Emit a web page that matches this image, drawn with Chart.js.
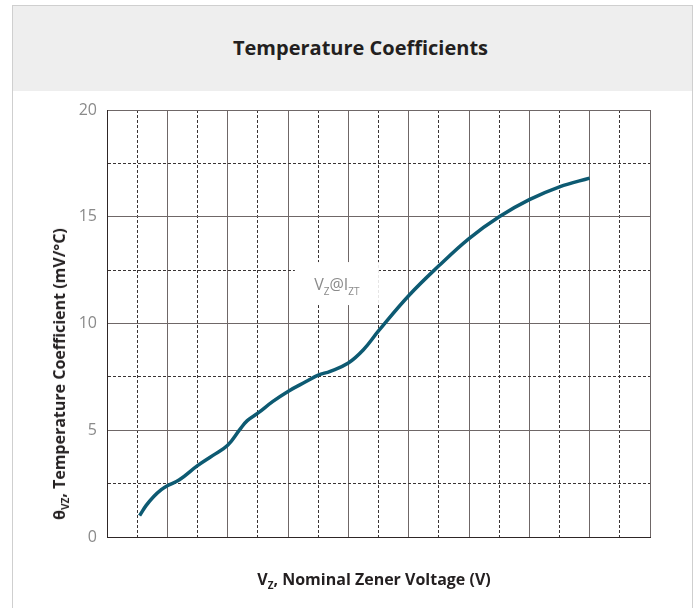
<!DOCTYPE html>
<html>
<head>
<meta charset="utf-8">
<script src="https://cdn.jsdelivr.net/npm/chart.js@4.4.1/dist/chart.umd.min.js"></script>
<style>
  body { margin: 0; background: #fff; font-family: "Open Sans", sans-serif; }
  #wrap { position: relative; width: 698px; height: 608px; overflow: hidden; }
  #panel { position: absolute; left: 12px; top: 5px; width: 679px; height: 640px; border: 1px solid #cfcfcf; }
  #header { height: 85px; background: #eeeeee; text-align: center; line-height: 84px; padding-left: 16px;
            font-weight: bold; font-size: 20px; color: #231f20; }
  #chart { position: absolute; left: 0; top: 0; }
  .axis-title { position: absolute; font-weight: bold; font-size: 16px; color: #231f20; white-space: nowrap; line-height: 20px; }
  .axis-title sub { font-size: 10px; vertical-align: -4px; line-height: 0; }
  #xtitle { left: 374px; top: 579px; transform: translate(-50%, -50%); }
  #ytitle { left: 59px; top: 374px; transform: translate(-50%, -50%) rotate(-90deg); }
</style>
</head>
<body>
<div id="wrap">
  <div id="panel"><div id="header">Temperature Coefficients</div></div>
  <canvas id="chart" width="698" height="608"></canvas>
  <div class="axis-title" id="xtitle">V<sub>Z</sub>, Nominal Zener Voltage (V)</div>
  <div class="axis-title" id="ytitle">θ<sub>VZ</sub>, Temperature Coefficient (mV/°C)</div>
</div>
<script>
// x in grid steps (axis is unlabelled in the original), y in mV/°C
const vz = [1.08, 1.3, 1.55, 1.8, 2, 2.4, 3, 3.5, 4, 4.4, 4.65, 5, 5.5, 6, 6.6, 7, 7.4, 8, 8.5, 9, 10, 11, 12, 13, 14, 15, 16];
const thetaVz = [1.0, 1.48, 1.9, 2.22, 2.4, 2.68, 3.34, 3.81, 4.3, 5.03, 5.45, 5.8, 6.35, 6.82, 7.28, 7.58, 7.76, 8.15, 8.77, 9.65, 11.3, 12.7, 13.98, 15.0, 15.8, 16.4, 16.81];
const yTicks = [0, 5, 10, 15, 20];

// note label position (data units)
const noteX = 7.62;
const noteY = 11.8;

const solidGrid = '#6f6767';
const dashGrid = '#3a3434';

const notePlugin = {
  id: 'note',
  afterDatasetsDraw(chart) {
    const ctx = chart.ctx;
    const cx = chart.scales.x.getPixelForValue(noteX);
    const cy = chart.scales.y.getPixelForValue(noteY);
    const big = '16px "Open Sans"';
    const small = '10px "Open Sans"';
    const parts = [['V', big, 0], ['Z', small, 5], ['@I', big, 0], ['ZT', small, 5]];
    let w = 0;
    parts.forEach(p => { ctx.font = p[1]; w += ctx.measureText(p[0]).width; });
    ctx.save();
    ctx.fillStyle = '#fff';
    ctx.fillRect(cx - 42, cy - 23, 84, 43);
    ctx.fillStyle = '#8a8a8a';
    ctx.textBaseline = 'alphabetic';
    let x = cx - w / 2;
    parts.forEach(p => {
      ctx.font = p[1];
      ctx.fillText(p[0], x, cy + 5 + p[2]);
      x += ctx.measureText(p[0]).width;
    });
    ctx.restore();
  }
};

new Chart(document.getElementById('chart'), {
  type: 'line',
  data: {
    datasets: [{
      data: vz.map((v, i) => ({ x: v, y: thetaVz[i] })),
      borderColor: '#0d5a72',
      borderWidth: 3.5,
      pointRadius: 0,
      tension: 0.4,
      fill: false
    }]
  },
  options: {
    responsive: false,
    animation: false,
    layout: { padding: { left: 0, top: 110, right: 48, bottom: 71 } },
    plugins: { legend: { display: false }, tooltip: { enabled: false } },
    scales: {
      x: {
        type: 'linear',
        min: 0,
        max: 18,
        ticks: { display: false, stepSize: 1 },
        grid: {
          drawTicks: false,
          color: c => (c.tick && c.tick.value % 2 === 0) ? solidGrid : dashGrid,
          lineWidth: 1
        },
        border: {
          color: '#2e2626',
          width: 1,
          dash: c => (c.tick && c.tick.value % 2 !== 0) ? [3, 2] : []
        },
        afterFit(scale) { scale.height = 0; }
      },
      y: {
        min: 0,
        max: 20,
        ticks: {
          stepSize: 2.5,
          padding: 10,
          color: '#8a8a8a',
          font: { family: 'Open Sans', size: 16 },
          callback: v => yTicks.includes(v) ? String(v) : ''
        },
        grid: {
          drawTicks: false,
          color: c => (c.tick && c.tick.value % 5 === 0) ? solidGrid : dashGrid,
          lineWidth: 1
        },
        border: {
          color: '#2e2626',
          width: 1,
          dash: c => (c.tick && c.tick.value % 5 !== 0) ? [3, 2] : []
        },
        afterFit(scale) { scale.width = 107; }
      }
    }
  },
  plugins: [notePlugin]
});
</script>
</body>
</html>
